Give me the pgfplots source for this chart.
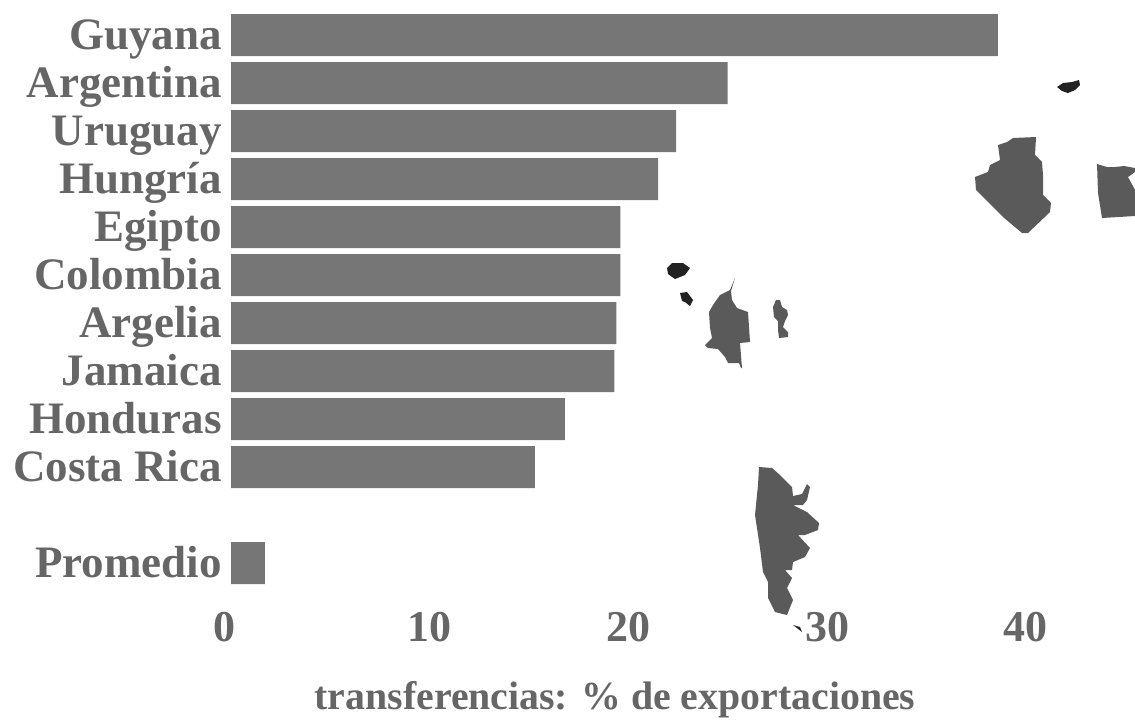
\documentclass[border=0pt]{standalone}
\usepackage{fontspec}
\setmainfont{Liberation Serif}
\usepackage{pgfplots}
\pgfplotsset{compat=1.18}
\definecolor{barg}{HTML}{767676}
\definecolor{txtg}{HTML}{666666}
\definecolor{mapg}{HTML}{5A5A5A}
\definecolor{mapd}{HTML}{222222}
\begin{document}
\begin{tikzpicture}
\path[use as bounding box] (0,0) rectangle (567.5pt,360pt);
% main bars, 1 px of the reference = 0.5pt
\begin{axis}[
  at={(115.5pt,66.5pt)}, anchor=south west,
  scale only axis, width=452pt, height=288pt,
  xbar, bar width=21pt,
  xmin=0, xmax=45.5, ymin=-0.5, ymax=11.5,
  axis line style={draw=none},
  major tick length=0pt,
  xtick={0,10,20,30,40},
  xticklabels={\hspace*{-6pt}0,10,20,30,40},
  ytick={0,2,3,4,5,6,7,8,9,10,11},
  yticklabels={Promedio,Costa Rica,Honduras,Jamaica,Argelia,Colombia,Egipto,Hungría,Uruguay,Argentina,Guyana},
  /pgf/number format/assume math mode=true,
  y tick label style={anchor=base east, font=\fontsize{22.5}{24}\selectfont\bfseries, text=txtg, yshift=-7pt, xshift=-1pt},
  x tick label style={anchor=base, font=\fontsize{22}{24}\selectfont\bfseries, text=txtg, yshift=-27pt},
]
\addplot[draw=none, fill=barg] coordinates {
  (38.6,11) (25.0,10) (22.4,9) (21.5,8) (19.6,7) (19.6,6)
  (19.4,5) (19.3,4) (16.8,3) (15.3,2) (1.7,0)};
\end{axis}
% country silhouettes and axis title, in reference pixels
\begin{axis}[
  at={(0pt,0pt)}, anchor=south west,
  scale only axis, width=567.5pt, height=360pt,
  xmin=0, xmax=1135, ymin=0, ymax=720, y dir=reverse,
  hide axis, clip=true,
]
\addplot[fill=mapd, draw=none] coordinates {(1057,87) (1063,83) (1072,82) (1079,80) (1080,85) (1075,90) (1068,93) (1062,91)} -- cycle;
\addplot[fill=mapg, draw=none] coordinates {(1013,138) (1036,137) (1035,155) (1042,162) (1043,175) (1043,195) (1051,203) (1050,212) (1028,233) (1022,233) (1003,217) (976,190) (975,177) (988,172) (990,165) (1000,160) (998,145) (1007,142)} -- cycle;
\addplot[fill=mapg, draw=none] coordinates {(1097,164) (1107,167) (1115,167) (1124,166) (1135,168) (1135,172) (1128,177) (1134,188) (1135,190) (1135,216) (1102,218) (1098,193)} -- cycle;
\addplot[fill=mapd, draw=none] coordinates {(667,268) (672,263) (683,263) (690,268) (685,275) (675,279) (668,274)} -- cycle;
\addplot[fill=mapd, draw=none] coordinates {(680,293) (687,292) (693,300) (690,306) (685,302) (682,301)} -- cycle;
\addplot[fill=mapg, draw=none] coordinates {(735,278) (730,290) (720,295) (713,305) (709,312) (710,328) (712,338) (705,345) (708,348) (718,349) (725,357) (728,363) (739,363) (741,368) (742,368) (740,343) (750,342) (748,312) (737,308) (732,300) (731,291)} -- cycle;
\addplot[fill=mapg, draw=none] coordinates {(776,300) (780,300) (782,307) (787,310) (788,315) (785,321) (783,327) (788,332) (788,337) (779,338) (778,330) (778,321) (774,317) (773,307)} -- cycle;
\addplot[fill=mapg, draw=none] coordinates {(759,467) (772,468) (780,475) (792,487) (793,496) (802,494) (807,484) (810,487) (807,500) (803,505) (793,505) (807,512) (819,523) (818,530) (805,535) (798,535) (810,548) (805,557) (793,562) (792,570) (785,570) (792,578) (787,588) (793,600) (787,615) (775,612) (768,598) (768,582) (763,572) (760,548) (755,515) (758,485)} -- cycle;
\addplot[fill=mapd, draw=none] coordinates {(793,625) (800,627) (802,632) (797,628)} -- cycle;
\node[font=\fontsize{19.9}{24}\selectfont\bfseries, text=txtg, anchor=base] at (axis cs:615,709) {transferencias: \% de exportaciones};
\end{axis}
\end{tikzpicture}
\end{document}
